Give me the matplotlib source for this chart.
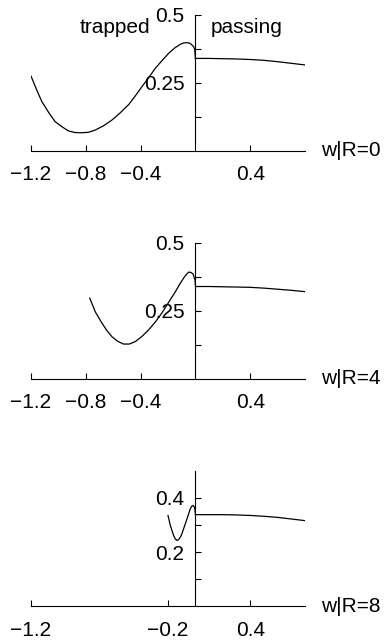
import matplotlib
matplotlib.use('Agg')
import matplotlib.pyplot as plt

plt.rcParams['font.family'] = ['Liberation Sans', 'DejaVu Sans']
plt.rcParams['font.size'] = 15

# trapped branch (w < 0)
trapped_x_R0 = [-1.2, -1.16, -1.121, -1.07, -1.024, -0.97, -0.927, -0.88, -0.829, -0.78, -0.731,
                -0.67, -0.609, -0.55, -0.487, -0.44, -0.39, -0.34, -0.292, -0.24, -0.195, -0.15,
                -0.11, -0.085, -0.061, -0.04, -0.024, -0.012, -0.005, 0.0]
trapped_y_R0 = [0.275, 0.226, 0.181, 0.140, 0.107, 0.087, 0.073, 0.067, 0.066, 0.068, 0.076,
                0.092, 0.113, 0.139, 0.170, 0.201, 0.236, 0.270, 0.304, 0.334, 0.359, 0.379,
                0.392, 0.397, 0.398, 0.396, 0.389, 0.383, 0.371, 0.340]

trapped_x_R4 = [-0.771, -0.73, -0.682, -0.645, -0.609, -0.567, -0.525, -0.482, -0.439, -0.39,
                -0.342, -0.293, -0.245, -0.195, -0.146, -0.115, -0.086, -0.065, -0.049, -0.033,
                -0.017, -0.003, 0.0]
trapped_y_R4 = [0.296, 0.245, 0.204, 0.176, 0.154, 0.137, 0.127, 0.127, 0.136, 0.155,
                0.179, 0.208, 0.241, 0.281, 0.320, 0.347, 0.370, 0.384, 0.392, 0.391,
                0.385, 0.363, 0.345]

trapped_x_R8 = [-0.2, -0.183, -0.159, -0.146, -0.134, -0.122, -0.110, -0.098, -0.086, -0.061,
                -0.037, -0.025, -0.017, -0.008, -0.005, 0.0]
trapped_y_R8 = [0.335, 0.298, 0.261, 0.248, 0.243, 0.246, 0.255, 0.268, 0.286, 0.323,
                0.360, 0.370, 0.372, 0.366, 0.362, 0.341]

# passing branch (w > 0)
passing_x = [0.0, 0.1, 0.2, 0.3, 0.4, 0.5, 0.6, 0.7, 0.8]
passing_y_R0 = [0.340, 0.340, 0.339, 0.338, 0.336, 0.333, 0.328, 0.322, 0.316]
passing_y_R4 = [0.339, 0.339, 0.338, 0.337, 0.336, 0.333, 0.329, 0.325, 0.320]
passing_y_R8 = [0.338, 0.338, 0.338, 0.337, 0.335, 0.332, 0.328, 0.322, 0.316]

panel_labels = ['w|R=0', 'w|R=4', 'w|R=8']
xticks = [[-1.2, -0.8, -0.4, 0.4], [-1.2, -0.8, -0.4, 0.4], [-1.2, -0.2, 0.4]]
yticks_major = [[0.25, 0.5], [0.25, 0.5], [0.2, 0.4]]
yticks_minor = [[0.125, 0.375], [0.125, 0.375], [0.1, 0.3]]

trapped = [(trapped_x_R0, trapped_y_R0), (trapped_x_R4, trapped_y_R4), (trapped_x_R8, trapped_y_R8)]
passing = [passing_y_R0, passing_y_R4, passing_y_R8]

fig = plt.figure(figsize=(3.87, 6.41), dpi=100)
bottoms = [0.7649, 0.4095, 0.0540]

for i in range(3):
    ax = fig.add_axes([0.0801, bottoms[i], 0.708, 0.2117])
    tx, ty = trapped[i]
    ax.plot(tx, ty, color='black', lw=0.9)
    ax.plot(passing_x, passing[i], color='black', lw=0.9)
    ax.set_xlim(-1.2, 0.8)
    ax.set_ylim(0, 0.5)

    for s in ['top', 'right']:
        ax.spines[s].set_visible(False)
    ax.spines['left'].set_position(('data', 0))
    ax.spines['left'].set_linewidth(0.8)
    ax.spines['bottom'].set_linewidth(0.8)

    ax.set_xticks(xticks[i])
    ax.set_xticklabels([f'{v:.1f}'.replace('-', '\u2212') for v in xticks[i]])
    ax.set_yticks(yticks_major[i])
    ax.set_yticks(yticks_minor[i], minor=True)
    ax.set_yticklabels([f'{v:g}' for v in yticks_major[i]])
    ax.tick_params(axis='both', which='both', direction='in', length=4.3, width=0.8)
    ax.tick_params(axis='x', pad=10.5)
    ax.tick_params(axis='y', pad=8)

    ax.text(0.92, 0.0, panel_labels[i], ha='left', va='center', clip_on=False)
    if i == 0:
        ax.text(-0.33, 0.434, 'trapped', ha='right', va='baseline')
        ax.text(0.115, 0.434, 'passing', ha='left', va='baseline')

fig.savefig('out.png', dpi=100)
